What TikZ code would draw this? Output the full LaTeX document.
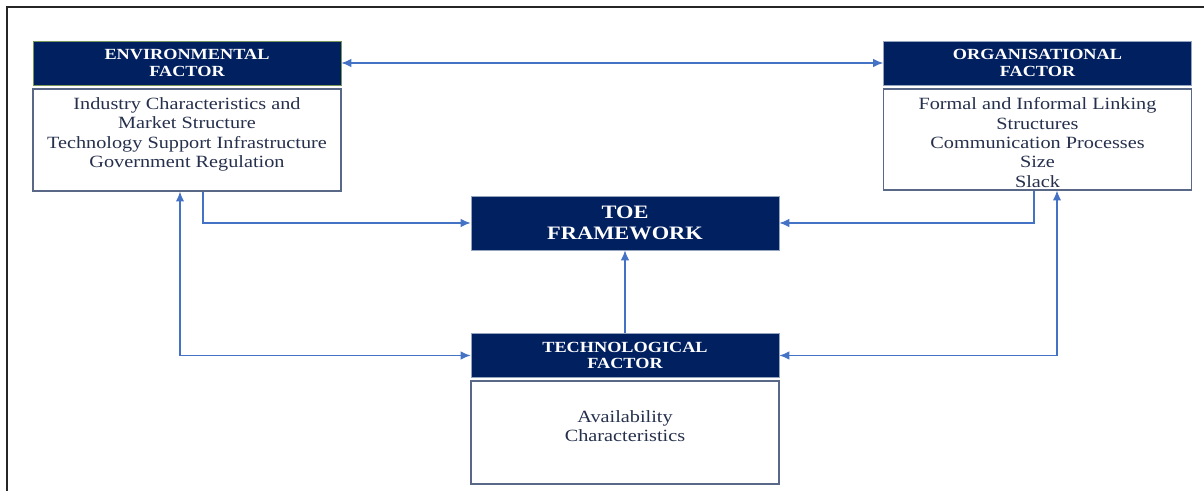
\documentclass[tikz,border=0pt]{standalone}
\usepackage{fontspec}
\setmainfont[FakeStretch=1.18]{Liberation Serif}
\usetikzlibrary{arrows,arrows.meta,calc}
\definecolor{dnavy}{RGB}{0, 32, 96}
\definecolor{lblue}{RGB}{68, 114, 196}
\definecolor{bgray}{RGB}{90, 104, 135}
\definecolor{tslate}{RGB}{38, 48, 76}
\definecolor{hgreen}{RGB}{120, 150, 90}
\definecolor{hgray}{RGB}{150, 165, 190}
\tikzset{>={Latex[length=7pt,width=6pt]}}
\tikzset{
  factorhead/.style={rectangle, fill=dnavy, draw=hgray, line width=0.6pt, text=white,
    font=\fontsize{11}{11.5}\selectfont\bfseries, align=center,
    minimum width=7.7cm, minimum height=1.1cm, inner sep=0pt},
  factorbody/.style={rectangle, draw=bgray, line width=0.9pt, minimum width=7.7cm, inner sep=0pt},
  factortext/.style={text=tslate, font=\fontsize{12.2}{13.8}\selectfont, align=center, anchor=north, inner sep=0pt},
  link/.style={draw=lblue, line width=0.8pt}
}

\begin{document}
\begin{tikzpicture}[x=0.025cm, y=-0.025cm]
  \useasboundingbox (0,0) rectangle (1204,491);
  \draw[line width=1.1pt, black!85] (7,491) -- (7,7) -- (1204,7);
  % factor boxes
  \node[factorhead, draw=hgreen] (envhead) at (187, 63){ENVIRONMENTAL\\FACTOR};
  \node[factorbody, minimum height=2.55cm] (envbody) at (187, 140){};
  \node[factortext] (envtext) at ($(envbody.north)+(0,9)$){Industry Characteristics and\\Market Structure\\Technology Support Infrastructure\\Government Regulation};
  \node[factorhead] (orghead) at (1037.5, 63){ORGANISATIONAL\\FACTOR};
  \node[factorbody, minimum height=2.525cm] (orgbody) at (1037.5, 139.5){};
  \node[factortext] (orgtext) at ($(orgbody.north)+(0,9)$){Formal and Informal Linking\\Structures\\Communication Processes\\Size\\Slack};
  \node[factorhead, font=\fontsize{13.5}{14.9}\selectfont\bfseries, minimum height=1.35cm] (toe) at (625, 223){TOE\\FRAMEWORK};
  \node[factorhead] (techhead) at (625, 355.5){TECHNOLOGICAL\\FACTOR};
  \node[factorbody, minimum height=2.575cm] (techbody) at (625, 432.5){};
  \node[factortext] (techtext) at ($(techbody.north)+(0,30)$){Availability\\Characteristics};
  % links
  \draw[link, <->] (envhead) -- (orghead);
  \draw[link, ->] ($(envbody.south)+(16,0)$) |- (toe.west);
  \draw[link, ->] ($(orgbody.south)+(-3.5,0)$) |- (toe.east);
  \draw[link, ->] (techhead) -- (toe);
  \draw[link, <->] (techhead.west) -| ($(envbody.south)+(-7,0)$);
  \draw[link, <->] (techhead.east) -| ($(orgbody.south)+(19.5,0)$);
\end{tikzpicture}
\end{document}
